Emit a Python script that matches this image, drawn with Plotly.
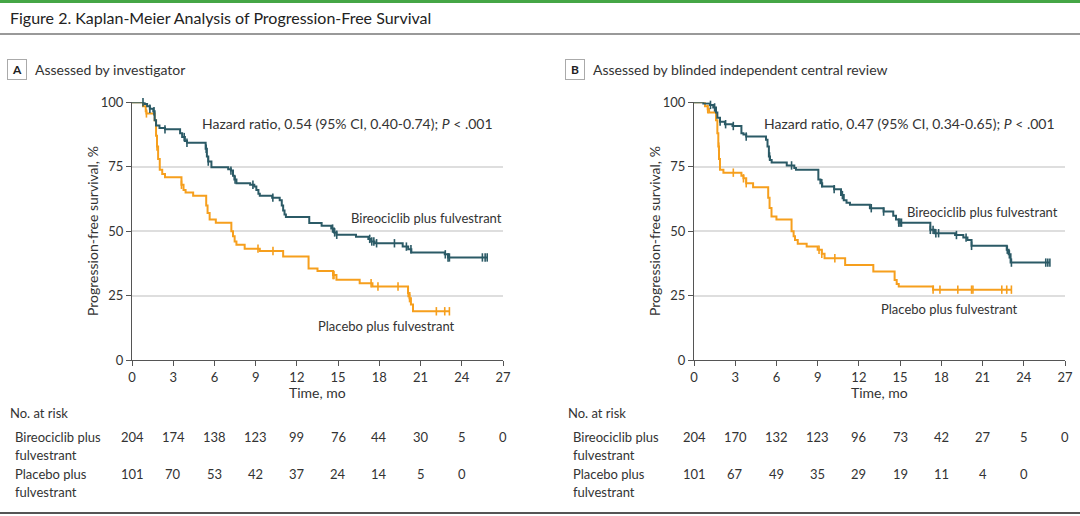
import numpy as np
import plotly.graph_objects as go

W, H = 1080, 516
TEAL = "#2b5a66"
ORANGE = "#f69f1d"
TXT = "#333333"
FONT = "Lato, Roboto, sans-serif"

# ---- data (time in months, survival in %) ----
# Panel A: assessed by investigator
a_bir_t = [0, 0.92, 1.1, 1.3, 1.55, 1.65, 1.75, 2.0, 2.4, 3.5, 3.65, 3.85, 4.0, 5.36, 5.45, 5.55, 5.78,
           7.0, 7.2, 7.35, 7.45, 7.6, 8.6, 8.9, 9.05, 9.2, 9.3, 10.2, 10.75, 10.9, 11.0, 11.1, 11.2,
           12.9, 13.8, 14.5, 14.7, 14.88, 16.3, 17.2, 17.4, 17.66, 19.7, 20.1, 20.33, 22.76, 23.0, 25.85]
a_bir_s = [100, 99.3, 98.5, 97.5, 96.5, 93, 91, 90, 89.5, 88, 86.5, 85, 84.3, 82, 79, 77, 74.8,
           74, 73.5, 71.5, 70, 68.6, 68, 67.3, 66, 64.5, 63.7, 63, 62, 60, 58, 56.5, 55.5,
           53.2, 52.1, 51, 49.5, 48.6, 47.8, 47, 46, 45.3, 44, 43, 41.7, 41, 39.8, 39.8]
a_bir_cens = [0.8, 1.3, 1.6, 2.4, 3.8, 4.0, 5.4, 5.55, 7.2, 7.5, 8.8, 10.25, 14.6, 14.75, 14.9,
              17.3, 17.45, 17.6, 17.8, 19.1, 19.97, 20.3, 22.8, 23.0, 23.1, 25.5, 25.7, 25.85]

a_pla_t = [0, 0.8, 1.0, 1.05, 1.65, 1.75, 1.82, 1.9, 2.02, 2.2, 2.4, 3.6, 3.75, 3.9, 4.45, 5.4, 5.5,
           5.65, 6.1, 7.23, 7.35, 7.47, 7.6, 8.2, 9.3, 11.0, 12.85, 13.5, 14.63, 14.88, 16.57, 17.5,
           20.09, 20.2, 20.3, 20.45, 23.1]
a_pla_s = [100, 98.5, 96.5, 95.7, 93, 87, 82.8, 78, 73.8, 72.2, 70.9, 68, 66, 65, 63.7, 60, 57,
           54.5, 53.3, 50, 48, 46, 44.7, 43.2, 42.3, 40.2, 35.5, 34.5, 33, 31.1, 29.8, 28.5,
           26, 24, 21.5, 18.9, 18.9]
a_pla_cens = [1.05, 1.82, 3.6, 9.17, 10.26, 14.63, 14.7, 17.4, 17.9, 19.36, 20.1, 20.2, 22.15, 22.76, 23.1]

# Panel B: assessed by blinded independent central review
b_bir_t = [0, 0.68, 1.16, 1.4, 1.6, 1.7, 1.89, 2.25, 2.8, 3.45, 3.6, 3.8, 5.24, 5.35, 5.45, 5.53, 5.65,
           6.75, 7.3, 7.42, 9.05, 9.2, 9.33, 10.2, 10.7, 10.9, 11.1, 11.35, 12.8, 13.8, 14.5, 14.7, 14.9,
           17.2, 17.5, 19.0, 19.6, 19.9, 20.2, 22.76, 22.9, 23.04, 25.9]
b_bir_s = [100, 99.5, 99, 98, 96, 94, 92.5, 91.5, 90.8, 88, 87.5, 86.7, 85.5, 82.8, 79, 77.6, 76.6,
           75.5, 74.5, 73.8, 70, 68.6, 67.3, 66.3, 64, 62, 61, 60.2, 58.9, 57.6, 56, 54.5, 53.3,
           50.5, 49.2, 48.5, 47.5, 46.6, 44.3, 42.8, 41, 37.8, 37.8]
b_bir_cens = [1.2, 1.5, 1.9, 2.3, 2.86, 3.8, 5.5, 7.1, 9.3, 10.2, 10.8, 12.9, 13.8, 14.9, 15.0, 15.1,
              17.2, 17.4, 17.6, 17.8, 19.1, 19.8, 20.2, 22.8, 22.95, 23.1, 25.6, 25.75, 25.9]

b_pla_t = [0, 0.8, 1.0, 1.1, 1.6, 1.7, 1.77, 1.82, 1.89, 2.14, 3.45, 3.6, 3.8, 4.3, 5.4, 5.5, 5.64,
           6.0, 7.1, 7.25, 7.35, 7.55, 8.2, 9.0, 9.3, 9.5, 11.0, 13.05, 14.6, 14.75, 14.9, 17.4, 23.1]
b_pla_s = [100, 98.5, 97.3, 96, 93, 88, 82.8, 78, 73.8, 72.7, 71.5, 70.5, 68.6, 67, 63, 59, 55.7,
           54.5, 50, 48, 46.6, 45.1, 44, 42.8, 41.2, 39.5, 36.9, 34.3, 31, 29.5, 28.5, 27.3, 27.3]
b_pla_cens = [1.0, 1.8, 2.86, 3.6, 3.8, 9.1, 9.3, 10.25, 17.4, 17.9, 19.2, 20.2, 20.3, 22.4, 22.76, 23.1]

# numbers at risk
risk_times = [0, 3, 6, 9, 12, 15, 18, 21, 24, 27]
a_risk_bir = [204, 174, 138, 123, 99, 76, 44, 30, 5, 0]
a_risk_pla = [101, 70, 53, 42, 37, 24, 14, 5, 0]
b_risk_bir = [204, 170, 132, 123, 96, 73, 42, 27, 5, 0]
b_risk_pla = [101, 67, 49, 35, 29, 19, 11, 4, 0]

hr_a = "Hazard ratio, 0.54 (95% CI, 0.40-0.74); <i>P</i> < .001"
hr_b = "Hazard ratio, 0.47 (95% CI, 0.34-0.65); <i>P</i> < .001"


def px(x):
    return x / W


def py(y):
    return 1 - y / H


def step_at(times, surv, t):
    i = np.searchsorted(np.array(times), t, side="right") - 1
    return [surv[k] for k in i]


fig = go.Figure()

panels = [
    ("x", "y", a_bir_t, a_bir_s, a_bir_cens, a_pla_t, a_pla_s, a_pla_cens),
    ("x2", "y2", b_bir_t, b_bir_s, b_bir_cens, b_pla_t, b_pla_s, b_pla_cens),
]
for xa, ya, bt, bs, bc, pt, ps, pc in panels:
    for t, s, c, col in [(pt, ps, pc, ORANGE), (bt, bs, bc, TEAL)]:
        fig.add_trace(go.Scatter(x=t, y=s, mode="lines", line=dict(color=col, width=2, shape="hv"),
                                 xaxis=xa, yaxis=ya, showlegend=False, cliponaxis=False))
        fig.add_trace(go.Scatter(x=c, y=step_at(t, s, c), mode="markers",
                                 marker=dict(symbol="line-ns", size=6, line=dict(color=col, width=1.6)),
                                 xaxis=xa, yaxis=ya, showlegend=False, cliponaxis=False))

ax_common = dict(range=[0, 27], tickvals=risk_times, ticks="outside", ticklen=5, tickcolor="#555",
                 showline=True, linecolor="#555", linewidth=1, showgrid=False, zeroline=False,
                 automargin=False, tickfont=dict(size=13, color=TXT))
ay_common = dict(range=[0, 100], tickvals=[0, 25, 50, 75, 100], ticks="outside", ticklen=5, tickcolor="#555",
                 showline=True, linecolor="#555", linewidth=1, showgrid=True, gridcolor="#dedede",
                 gridwidth=1.5, zeroline=False, automargin=False, tickfont=dict(size=13, color=TXT))

ydom = [py(360), py(102.3)]
fig.update_layout(
    width=W, height=H, autosize=False, margin=dict(l=0, r=0, t=0, b=0, autoexpand=False),
    paper_bgcolor="white", plot_bgcolor="white", font=dict(family=FONT, color=TXT),
    xaxis=dict(domain=[px(132), px(503)], anchor="y", **ax_common),
    yaxis=dict(domain=ydom, anchor="x", **ay_common),
    xaxis2=dict(domain=[px(694), px(1065)], anchor="y2", **ax_common),
    yaxis2=dict(domain=ydom, anchor="x2", **ay_common),
)

ann = []
# header
ann.append(dict(text="Figure 2. Kaplan-Meier Analysis of Progression-Free Survival", x=px(8), y=py(18),
                xref="paper", yref="paper", xanchor="left", yanchor="middle", showarrow=False,
                font=dict(size=16, color="#222")))
for lab, title, x0 in [("A", "Assessed by investigator", 8), ("B", "Assessed by blinded independent central review", 566)]:
    ann.append(dict(text="<b>" + lab + "</b>", x=px(x0 + 9), y=py(69), xref="paper", yref="paper",
                    xanchor="center", yanchor="middle", showarrow=False, font=dict(size=12, color="#222"),
                    bordercolor="#aaa", borderwidth=1, borderpad=3, width=12, height=13))
    ann.append(dict(text=title, x=px(x0 + 25), y=py(69), xref="paper", yref="paper", xanchor="left",
                    yanchor="middle", showarrow=False, font=dict(size=14, color=TXT)))

# axis titles, in-plot labels
for xa, ya, x_ytitle, hr, bl, pl in [("x", "y", 92, hr_a, (15.8, 55.2), (13.4, 13.3)),
                                     ("x2", "y2", 654, hr_b, (15.36, 57.5), (13.46, 19.9))]:
    ann.append(dict(text="Time, mo", x=13.5, y=py(392), xref=xa, yref="paper", xanchor="center",
                    yanchor="middle", showarrow=False, font=dict(size=14, color=TXT)))
    ann.append(dict(text="Progression-free survival, %", x=px(x_ytitle), y=py(231), xref="paper", yref="paper",
                    xanchor="center", yanchor="middle", textangle=-90, showarrow=False,
                    font=dict(size=14, color=TXT)))
    ann.append(dict(text=hr, x=4.95, y=91.6, xref=xa, yref=ya, xanchor="left", yanchor="middle",
                    showarrow=False, font=dict(size=14, color=TXT)))
    ann.append(dict(text="Bireociclib plus fulvestrant", x=bl[0], y=bl[1], xref=xa, yref=ya, xanchor="left",
                    yanchor="middle", showarrow=False, font=dict(size=13, color=TXT)))
    ann.append(dict(text="Placebo plus fulvestrant", x=pl[0], y=pl[1], xref=xa, yref=ya, xanchor="left",
                    yanchor="middle", showarrow=False, font=dict(size=13, color=TXT)))

# risk tables
for xa, x0, rb, rp in [("x", 8, a_risk_bir, a_risk_pla), ("x2", 566, b_risk_bir, b_risk_pla)]:
    ann.append(dict(text="No. at risk", x=px(x0), y=py(413), xref="paper", yref="paper", xanchor="left",
                    yanchor="middle", showarrow=False, font=dict(size=13, color=TXT)))
    for txt, yy in [("Bireociclib plus", 437), ("fulvestrant", 455), ("Placebo plus", 474), ("fulvestrant", 492)]:
        ann.append(dict(text=txt, x=px(x0 + 5), y=py(yy), xref="paper", yref="paper", xanchor="left",
                        yanchor="middle", showarrow=False, font=dict(size=13, color=TXT)))
    for vals, yy in [(rb, 437), (rp, 474)]:
        for t, v in zip(risk_times, vals):
            ann.append(dict(text=str(v), x=t, y=py(yy), xref=xa, yref="paper", xanchor="center",
                            yanchor="middle", showarrow=False, font=dict(size=13, color=TXT)))

fig.update_layout(annotations=ann)

fig.update_layout(shapes=[
    dict(type="rect", xref="paper", yref="paper", x0=0, x1=1, y0=py(3), y1=1, fillcolor="#45a646", line_width=0),
    dict(type="line", xref="paper", yref="paper", x0=0, x1=1, y0=py(34), y1=py(34),
         line=dict(color="#777", width=1.5)),
    dict(type="line", xref="paper", yref="paper", x0=0, x1=1, y0=py(513), y1=py(513),
         line=dict(color="#555", width=2)),
])

# pin the figure to the window's top-left corner at its own size (the page body has a margin)
post = ("document.body.style.margin='0';"
        "var gd=document.getElementById('{plot_id}');"
        "gd.style.position='fixed';gd.style.left='0px';gd.style.top='0px';"
        "Plotly.relayout(gd,{width:%d,height:%d});" % (W, H))
fig.write_html("out.html", post_script=post, config={"displayModeBar": False})
